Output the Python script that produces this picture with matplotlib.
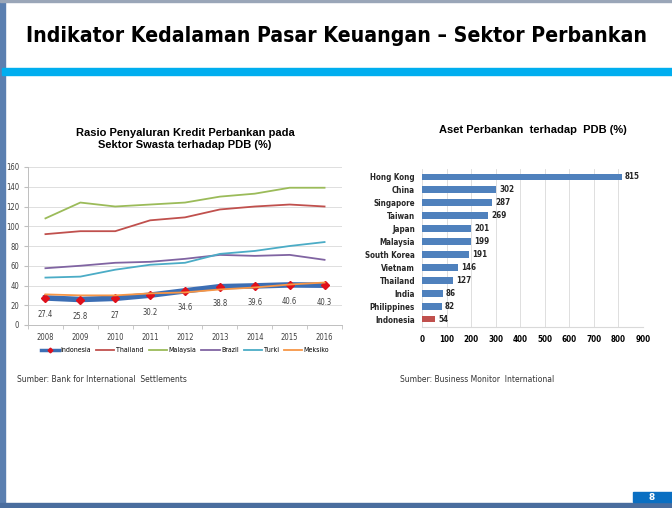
import numpy as np
import matplotlib.pyplot as plt
from matplotlib.patches import Rectangle

# data: left chart (credit to private sector / GDP, %)
years = ['2008', '2009', '2010', '2011', '2012', '2013', '2014', '2015', '2016']
indonesia = [27.4, 25.8, 27, 30.2, 34.6, 38.8, 39.6, 40.6, 40.3]
thailand = [92, 95, 95, 106, 109, 117, 120, 122, 120]
malaysia = [108, 124, 120, 122, 124, 130, 133, 139, 139]
brazil = [57.5, 60, 63, 64, 67, 71, 70, 71, 66]
turki = [48, 49, 56, 61, 63, 72, 75, 80, 84]
meksiko = [31, 30, 30, 32, 33, 36, 38, 41, 43]

# data: right chart (bank assets / GDP, %)
countries = ['Hong Kong', 'China', 'Singapore', 'Taiwan', 'Japan', 'Malaysia',
             'South Korea', 'Vietnam', 'Thailand', 'India', 'Philippines', 'Indonesia']
assets = [815, 302, 287, 269, 201, 199, 191, 146, 127, 86, 82, 54]

COND = dict(family='DejaVu Sans', stretch='condensed')

fig = plt.figure(figsize=(6.72, 5.08), dpi=100)
fig.patch.set_facecolor('white')

# slide decoration
fig.patches.append(Rectangle((0, 0), 0.007, 1, transform=fig.transFigure, color='#5b7fb0', zorder=0))
fig.patches.append(Rectangle((0, 0), 1, 0.009, transform=fig.transFigure, color='#4a6d9e', zorder=0))
fig.patches.append(Rectangle((0, 0.997), 1, 0.003, transform=fig.transFigure, color='#9aa6b8', zorder=0))
fig.patches.append(Rectangle((0.003, 1 - 75 / 508), 0.997, 7 / 508, transform=fig.transFigure, color='#00aeef', zorder=1))
fig.patches.append(Rectangle((633 / 672, 6 / 508), 39 / 672, 10 / 508, transform=fig.transFigure, color='#0a6fc2', zorder=1))
fig.text(652 / 672, 11 / 508, '8', color='white', fontsize=6.5, fontweight='bold', ha='center', va='center')

fig.text(337 / 672, 1 - 36 / 508, 'Indikator Kedalaman Pasar Keuangan \u2013 Sektor Perbankan',
         fontsize=15.2, fontweight='bold', ha='center', va='center', **COND)

# ---- line chart
ax = fig.add_axes([28 / 672, 1 - 325 / 508, 314 / 672, 158 / 508])
x = np.arange(len(years))
ax.plot(x, thailand, color='#c0504d', lw=1.3, label='Thailand')
ax.plot(x, malaysia, color='#9bbb59', lw=1.3, label='Malaysia')
ax.plot(x, brazil, color='#8064a2', lw=1.3, label='Brazil')
ax.plot(x, turki, color='#4bacc6', lw=1.3, label='Turki')
ax.plot(x, indonesia, color='#3c6eb4', lw=4, marker='D', ms=4, mfc='#e0101b', mec='#e0101b',
        label='Indonesia', zorder=3)
ax.plot(x, meksiko, color='#f79646', lw=1.3, label='Meksiko', zorder=4)
for xi, v in zip(x, indonesia):
    ax.annotate(f'{v:g}', (xi, v), xytext=(0, -9), textcoords='offset points',
                ha='center', va='top', fontsize=5.5, color='#404040', **COND)
ax.set_xlim(-0.5, len(years) - 0.5)
ax.set_ylim(0, 160)
ax.set_yticks(range(0, 161, 20))
ax.set_xticks(x)
ax.set_xticklabels(years, **COND)
ax.set_xticks(np.arange(-0.5, len(years), 1), minor=True)
ax.tick_params(axis='x', which='major', length=0, labelsize=5.5, pad=6, colors='#404040')
ax.tick_params(axis='x', which='minor', length=3, color='#bfbfbf')
ax.tick_params(axis='y', length=3, labelsize=5.5, colors='#404040', color='#bfbfbf')
for t in ax.get_yticklabels():
    t.set_stretch('condensed')
ax.grid(axis='y', color='#d9d9d9', lw=0.6)
ax.set_axisbelow(True)
for s in ['top', 'right']:
    ax.spines[s].set_visible(False)
for s in ['left', 'bottom']:
    ax.spines[s].set_color('#bfbfbf')
    ax.spines[s].set_linewidth(0.7)
h, l = ax.get_legend_handles_labels()
order = ['Indonesia', 'Thailand', 'Malaysia', 'Brazil', 'Turki', 'Meksiko']
hh = [h[l.index(n)] for n in order]
leg = ax.legend(hh, order, loc='upper center', bbox_to_anchor=(0.5, -0.1), ncol=6, frameon=False,
                handlelength=2.6, columnspacing=0.8, handletextpad=0.2, markerscale=0.6,
                prop=dict(size=5, **COND))
leg.get_lines()[0].set_linewidth(2.5)
ax.set_title('Rasio Penyaluran Kredit Perbankan pada\nSektor Swasta terhadap PDB (%)',
             fontsize=8, fontweight='bold', family='Liberation Sans', pad=14)

fig.text(17 / 672, 1 - 380 / 508, 'Sumber: Bank for International  Settlements', fontsize=5.5,
         va='center', color='#333333')

# ---- bar chart
bx = fig.add_axes([422 / 672, 1 - 327 / 508, 221 / 672, 158 / 508])
y = np.arange(len(countries))[::-1]
colors = ['#4f81bd'] * (len(countries) - 1) + ['#c0504d']
bx.barh(y, assets, height=0.5, color=colors)
for yi, v in zip(y, assets):
    bx.text(v + 12, yi, str(v), va='center', ha='left', fontsize=5.8, fontweight='bold',
            color='#262626', **COND)
bx.set_yticks(y)
bx.set_yticklabels(countries, fontsize=5.8, fontweight='bold', color='#262626', **COND)
bx.set_ylim(-0.6, len(countries) - 0.4)
bx.set_xlim(0, 900)
bx.set_xticks(range(0, 901, 100))
bx.tick_params(axis='x', length=0, labelsize=5.8, pad=6)
bx.tick_params(axis='y', length=0, pad=5)
for t in bx.get_xticklabels():
    t.set_fontweight('bold')
    t.set_stretch('condensed')
bx.grid(axis='x', color='#d9d9d9', lw=0.6)
bx.set_axisbelow(True)
for s in ['top', 'right', 'left']:
    bx.spines[s].set_visible(False)
bx.spines['bottom'].set_color('#d9d9d9')
bx.set_title('Aset Perbankan  terhadap  PDB (%)', fontsize=8, fontweight='bold',
             family='Liberation Sans', pad=26)

fig.text(400 / 672, 1 - 380 / 508, 'Sumber: Business Monitor  International', fontsize=5.5,
         va='center', color='#333333')

fig.savefig('out.png', dpi=100)
